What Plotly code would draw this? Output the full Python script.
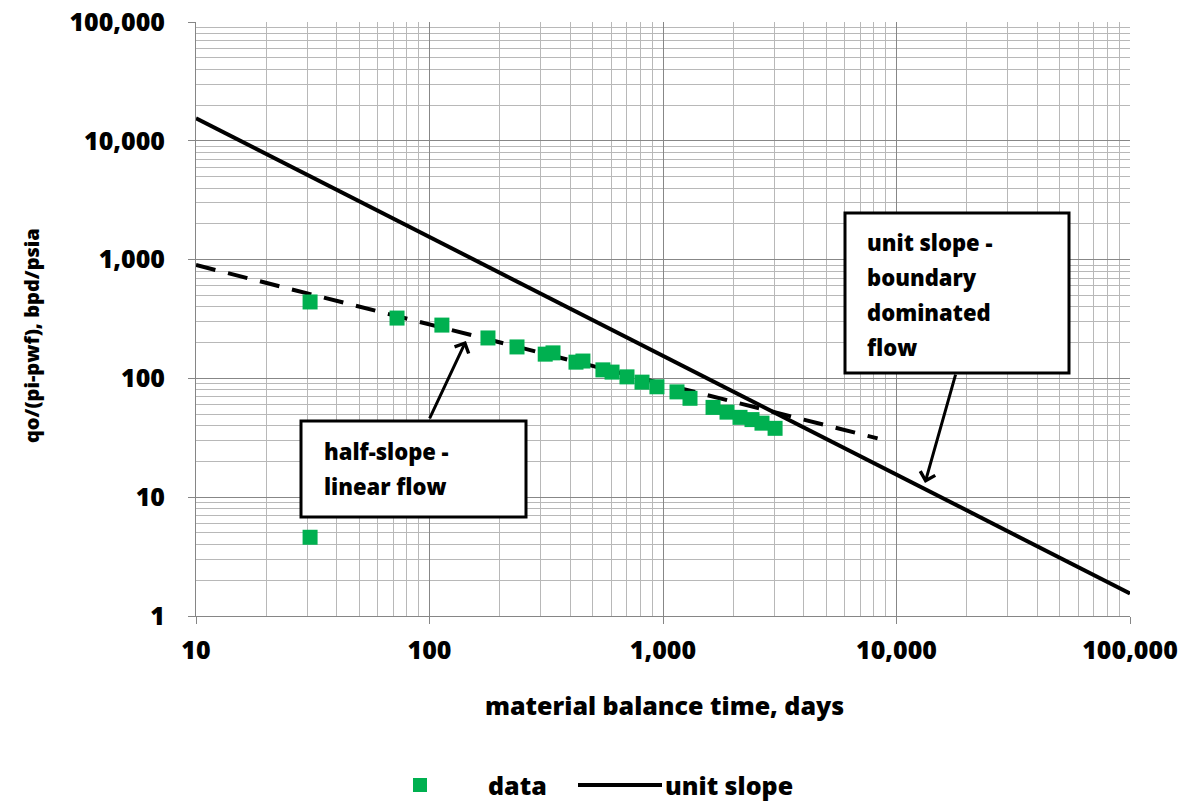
import numpy as np
import plotly.graph_objects as go

# Measured production data: material balance time (days) vs productivity index
mbt_days = [30.8, 30.8, 72.6, 113, 178, 237, 313, 338, 424, 454, 553, 605, 701,
            813, 942, 1148, 1305, 1638, 1880, 2137, 2405, 2654, 3020]
rate_norm = [440, 4.6, 322, 281, 219, 184, 160, 164, 137, 140, 118, 113, 103,
             93, 85, 77, 68, 57, 52, 47, 45, 42, 38]

# Reference trends
unit_slope_x = [10, 100000]
unit_slope_coef = 155000.0          # y = coef / x
half_slope_x = [10, 8300]
half_slope_coef = 2846.0            # y = coef / sqrt(x)

x_tick_vals = [10, 100, 1000, 10000, 100000]
x_tick_text = ["10", "100", "1,000", "10,000", "100,000"]
y_tick_vals = [1, 10, 100, 1000, 10000, 100000]
y_tick_text = ["1", "10", "100", "1,000", "10,000", "100,000"]

FONT = "Open Sans"
WEIGHT = 800
MINOR_GRID = "#b8b8b8"
MAJOR_GRID = "#878787"
GREEN = "#00b050"

unit_slope_y = [unit_slope_coef / v for v in unit_slope_x]
half_slope_y = [half_slope_coef / np.sqrt(v) for v in half_slope_x]

fig = go.Figure()

fig.add_trace(go.Scatter(
    x=half_slope_x, y=half_slope_y, mode="lines", showlegend=False,
    line=dict(color="black", width=4, dash="20px,13px"),
))
fig.add_trace(go.Scatter(
    x=mbt_days, y=rate_norm, mode="markers", name="data", showlegend=False,
    marker=dict(symbol="square", size=15, color=GREEN, line=dict(width=0)),
))
fig.add_trace(go.Scatter(
    x=unit_slope_x, y=unit_slope_y, mode="lines", name="unit slope", showlegend=False,
    line=dict(color="black", width=4),
))

tick_font = dict(family=FONT, size=25, color="black", weight=WEIGHT)
axis_common = dict(
    type="log", automargin=False,
    showgrid=True, gridcolor=MAJOR_GRID, gridwidth=1,
    showline=True, linecolor="#868686", linewidth=1,
    ticks="outside", ticklen=7, tickcolor="#868686",
    tickfont=tick_font,
    zeroline=False,
    minor=dict(dtick="D1", showgrid=True, gridcolor=MINOR_GRID, gridwidth=1, ticks=""),
)

fig.update_xaxes(**axis_common, range=[1, 5], tickvals=x_tick_vals,
                 ticktext=x_tick_text, ticklabelstandoff=5)
fig.update_yaxes(**axis_common, range=[0, 5], tickvals=y_tick_vals,
                 ticktext=y_tick_text, ticklabelstandoff=18)

W, H = 1197, 801
L, R, T, B = 196, 67, 22, 185


def px_to_paper(px, py):
    return (px - L) / (W - L - R), 1 - (py - T) / (H - T - B)


def text_at(px, py, text, size, xanchor="left", angle=0):
    x, y = px_to_paper(px, py)
    fig.add_annotation(xref="paper", yref="paper", x=x, y=y, text=text,
                       showarrow=False, xanchor=xanchor, yanchor="middle",
                       textangle=angle,
                       font=dict(family=FONT, size=size, color="black", weight=WEIGHT))


# Axis titles
text_at(664, 705, "material balance time, days", 25, xanchor="center")
text_at(31, 336, "qo/(pi-pwf), bpd/psia", 20, xanchor="center", angle=-90)

# Annotation boxes
boxes = [
    ((301, 421, 526, 517), 322, [451, 486], ["half-slope -", "linear flow"]),
    ((845, 213, 1069, 373), 865, [242, 277, 312, 347],
     ["unit slope -", "boundary", "dominated", "flow"]),
]
for (x0, y0, x1, y1), tx, rows, lines in boxes:
    px0, py0 = px_to_paper(x0, y1)
    px1, py1 = px_to_paper(x1, y0)
    fig.add_shape(type="rect", xref="paper", yref="paper",
                  x0=px0, y0=py0, x1=px1, y1=py1,
                  line=dict(color="black", width=3), fillcolor="white", layer="above")
    for ry, line in zip(rows, lines):
        text_at(tx, ry, line, 22)

# Arrows from boxes to the trends
for hx, hy, ax, ay in [(2.156, 2.315, -37, 79), (4.122, 1.119, 31, -110)]:
    fig.add_annotation(x=hx, y=hy, xref="x", yref="y", ax=ax, ay=ay, text="",
                       showarrow=True, arrowhead=4, arrowsize=1.0, arrowwidth=3,
                       arrowcolor="black")

# Legend
sx0, sy0 = px_to_paper(413, 792)
sx1, sy1 = px_to_paper(427, 778)
fig.add_shape(type="rect", xref="paper", yref="paper", x0=sx0, y0=sy0, x1=sx1, y1=sy1,
              line=dict(width=0), fillcolor=GREEN)
text_at(486, 785, "data", 25)
lx0, ly = px_to_paper(578, 785)
lx1, _ = px_to_paper(662, 785)
fig.add_shape(type="line", xref="paper", yref="paper", x0=lx0, y0=ly, x1=lx1, y1=ly,
              line=dict(color="black", width=4))
text_at(663, 785, "unit slope", 25)

fig.update_layout(
    width=W, height=H,
    margin=dict(l=L, r=R, t=T, b=B),
    plot_bgcolor="white", paper_bgcolor="white",
    font=dict(family=FONT, color="black"),
    showlegend=False,
)

fig.write_html("out.html")
